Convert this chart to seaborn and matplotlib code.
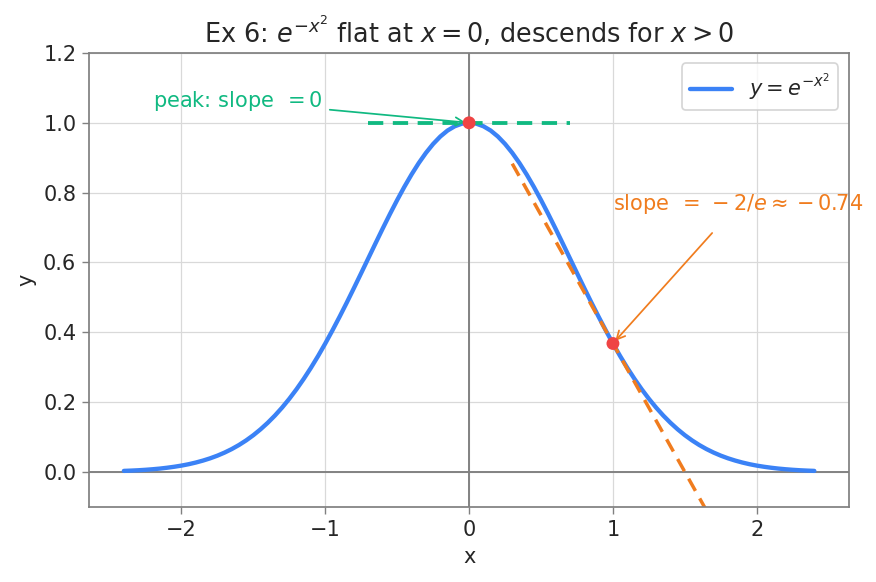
import numpy as np
import pandas as pd
import matplotlib
matplotlib.use("Agg")
import matplotlib.pyplot as plt
import seaborn as sns

# curve values
x_vals = [-2.40, -2.35, -2.30, -2.25, -2.20, -2.15, -2.10, -2.05, -2.00, -1.95,
          -1.90, -1.85, -1.80, -1.75, -1.70, -1.65, -1.60, -1.55, -1.50, -1.45,
          -1.40, -1.35, -1.30, -1.25, -1.20, -1.15, -1.10, -1.05, -1.00, -0.95,
          -0.90, -0.85, -0.80, -0.75, -0.70, -0.65, -0.60, -0.55, -0.50, -0.45,
          -0.40, -0.35, -0.30, -0.25, -0.20, -0.15, -0.10, -0.05, 0.00,
          0.05, 0.10, 0.15, 0.20, 0.25, 0.30, 0.35, 0.40, 0.45, 0.50,
          0.55, 0.60, 0.65, 0.70, 0.75, 0.80, 0.85, 0.90, 0.95, 1.00,
          1.05, 1.10, 1.15, 1.20, 1.25, 1.30, 1.35, 1.40, 1.45, 1.50,
          1.55, 1.60, 1.65, 1.70, 1.75, 1.80, 1.85, 1.90, 1.95, 2.00,
          2.05, 2.10, 2.15, 2.20, 2.25, 2.30, 2.35, 2.40]
y_vals = [0.0032, 0.0040, 0.0050, 0.0063, 0.0079, 0.0098, 0.0122, 0.0150, 0.0183, 0.0223,
          0.0271, 0.0327, 0.0392, 0.0468, 0.0556, 0.0657, 0.0773, 0.0905, 0.1054, 0.1222,
          0.1409, 0.1616, 0.1845, 0.2096, 0.2369, 0.2665, 0.2982, 0.3320, 0.3679, 0.4056,
          0.4449, 0.4855, 0.5273, 0.5698, 0.6126, 0.6554, 0.6977, 0.7390, 0.7788, 0.8167,
          0.8521, 0.8847, 0.9139, 0.9394, 0.9608, 0.9778, 0.9900, 0.9975, 1.0000,
          0.9975, 0.9900, 0.9778, 0.9608, 0.9394, 0.9139, 0.8847, 0.8521, 0.8167, 0.7788,
          0.7390, 0.6977, 0.6554, 0.6126, 0.5698, 0.5273, 0.4855, 0.4449, 0.4056, 0.3679,
          0.3320, 0.2982, 0.2665, 0.2369, 0.2096, 0.1845, 0.1616, 0.1409, 0.1222, 0.1054,
          0.0905, 0.0773, 0.0657, 0.0556, 0.0468, 0.0392, 0.0327, 0.0271, 0.0223, 0.0183,
          0.0150, 0.0122, 0.0098, 0.0079, 0.0063, 0.0050, 0.0040, 0.0032]

# tangent segments
flat_x = [-0.7, 0.7]
flat_y = [1.0, 1.0]
tan_x = [0.3, 1.7]
tan_y = [0.883, -0.147]

# marked points
pts_x = [0.0, 1.0]
pts_y = [1.0, 0.368]

sns.set_style("whitegrid")
plt.rcParams["font.family"] = ["DejaVu Sans"]

fig, ax = plt.subplots(figsize=(7.008, 4.656), dpi=125)

curve = pd.DataFrame({"x": x_vals, "y": y_vals})
sns.lineplot(data=curve, x="x", y="y", ax=ax, color="#3b82f6", linewidth=2.5,
             label=r"$y = e^{-x^2}$")
sns.lineplot(x=flat_x, y=flat_y, ax=ax, color="#10b981", linewidth=2.2,
             linestyle=(0, (4, 2.5)))
sns.lineplot(x=tan_x, y=tan_y, ax=ax, color="#f07c1e", linewidth=2.0,
             linestyle=(0, (4, 2.5)))
sns.scatterplot(x=pts_x, y=pts_y, ax=ax, color="#ef4444", s=55, zorder=5,
                edgecolor="none")

ax.axhline(0, color="gray", linewidth=1.1, zorder=1)
ax.axvline(0, color="gray", linewidth=1.1, zorder=1)

ax.annotate(r"peak: slope $\,= 0$", xy=(0, 1.0), xytext=(-2.2, 1.045),
            color="#10b981", fontsize=12,
            arrowprops=dict(arrowstyle="->", color="#10b981", lw=1.0))
ax.annotate(r"slope $\,= \,-2/e \approx -0.74$", xy=(1.0, 0.368), xytext=(1.0, 0.75),
            color="#f07c1e", fontsize=12,
            arrowprops=dict(arrowstyle="->", color="#f07c1e", lw=1.0,
                            shrinkA=10))

ax.set_ylim(-0.1, 1.2)
ax.set_xticks([-2, -1, 0, 1, 2])
ax.set_title(r"Ex 6: $e^{-x^2}$ flat at $x = 0$, descends for $x > 0$", fontsize=14.7)
ax.set_xlabel("x", fontsize=12)
ax.set_ylabel("y", fontsize=12)
ax.tick_params(labelsize=12, length=4, color="gray", left=True, bottom=True)
for sp in ax.spines.values():
    sp.set_color("gray")
    sp.set_linewidth(1.0)
ax.grid(color="#d9d9d9", linewidth=0.7)
ax.legend(loc="upper right", fontsize=12, frameon=True)

fig.subplots_adjust(left=0.102, right=0.969, top=0.909, bottom=0.129)
fig.savefig("out.png", dpi=125)
